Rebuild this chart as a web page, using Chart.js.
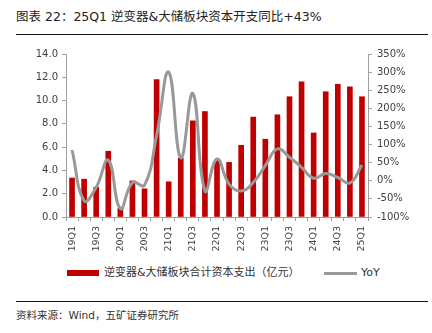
<!DOCTYPE html>
<html>
<head>
<meta charset="utf-8">
<script src="https://cdn.jsdelivr.net/npm/chart.js@4"></script>
<style>
  body { margin: 0; width: 432px; height: 333px; background: #fff; position: relative; overflow: hidden;
         font-family: "DejaVu Sans", "Noto Sans CJK SC", sans-serif; color: #333; }
  #title { position: absolute; left: 16px; top: 6px; font-size: 12.5px; font-family: "DejaVu Sans", "Noto Sans CJK SC"; color: #222; white-space: nowrap; }
  .rule { position: absolute; left: 16px; width: 412px; height: 1.4px; background: #111; }
  #wrap { position: absolute; left: 0; top: 40px; width: 432px; height: 220px; }
  #legend { position: absolute; top: 265px; left: 0; width: 432px; height: 16px; font-size: 11px; color: #333; }
  #legend span { position: absolute; white-space: nowrap; line-height: 16px; }
  #source { position: absolute; left: 16px; top: 307px; font-size: 10.5px; color: #333; white-space: nowrap; }
</style>
</head>
<body>
<div id="title">图表 22：25Q1 逆变器&amp;大储板块资本开支同比+43%</div>
<div class="rule" style="top:34px"></div>
<div id="wrap"><canvas id="chart" width="432" height="220"></canvas></div>
<div id="legend"></div>
<div class="rule" style="top:301px"></div>
<div id="source">资料来源：Wind，五矿证券研究所</div>
<script>
const quarters = ["19Q1","19Q2","19Q3","19Q4","20Q1","20Q2","20Q3","20Q4",
                  "21Q1","21Q2","21Q3","21Q4","22Q1","22Q2","22Q3","22Q4",
                  "23Q1","23Q2","23Q3","23Q4","24Q1","24Q2","24Q3","24Q4","25Q1"];
// 逆变器&大储板块合计资本支出（亿元）
const capex = [3.35, 3.25, 2.55, 5.65, 0.76, 3.1, 2.42, 11.8,
               3.02, 5.06, 8.26, 9.06, 4.89, 4.69, 6.16, 8.58,
               6.68, 8.78, 10.33, 11.6, 7.22, 10.76, 11.4, 11.17, 10.33];
// YoY (%)
const yoy = [85, -55, -18, 57, -77, -5, -12, 125,
             300, 63, 241, -28, 60, -9, -28, -5,
             42, 88, 65, 37, 7, 20, 9, -6, 43];

const barName = "逆变器&大储板块合计资本支出（亿元）";
const lineName = "YoY";
const axisGray = "#a0a0a0";
const tickFont = { family: "DejaVu Sans", size: 10 };

new Chart(document.getElementById("chart"), {
    data: {
        labels: quarters,
        datasets: [
            {
                type: "line",
                label: lineName,
                data: yoy,
                yAxisID: "y1",
                borderColor: "#999999",
                borderWidth: 3,
                pointRadius: 0,
                tension: 0.45,
                fill: false,
                order: 0
            },
            {
                type: "bar",
                label: barName,
                data: capex,
                yAxisID: "y",
                backgroundColor: "#c00000",
                barThickness: 5,
                order: 1
            }
        ]
    },
    options: {
        responsive: false,
        animation: false,
        maintainAspectRatio: false,
        layout: { padding: { top: 14, left: 0, right: 0, bottom: 0 } },
        plugins: { legend: { display: false }, tooltip: { enabled: false } },
        scales: {
            x: {
                offset: true,
                grid: { offset: true, drawOnChartArea: false, tickLength: 4, color: axisGray },
                border: { color: axisGray, width: 1 },
                ticks: {
                    autoSkip: false, minRotation: 90, maxRotation: 90, padding: 5,
                    color: "#404040", font: { family: "DejaVu Sans", size: 9.5 },
                    callback: (v, i) => i % 2 === 0 ? quarters[i] : ""
                },
                afterFit: s => { s.height = 43; }
            },
            y: {
                position: "left",
                min: 0, max: 14,
                ticks: { stepSize: 2, padding: 4, color: "#404040", font: tickFont,
                         callback: v => v.toFixed(1) },
                grid: { drawOnChartArea: false, tickLength: 4, color: axisGray },
                border: { color: axisGray, width: 1 },
                afterFit: s => { s.width = 66; }
            },
            y1: {
                position: "right",
                min: -100, max: 350,
                ticks: { stepSize: 50, padding: 5, color: "#404040", font: tickFont,
                         callback: v => v + "%" },
                grid: { drawOnChartArea: false, tickLength: 4, color: axisGray },
                border: { color: axisGray, width: 1 },
                afterFit: s => { s.width = 64; }
            }
        }
    }
});

// legend
const lg = document.getElementById("legend");
lg.innerHTML =
    '<span style="left:67px;top:5px;width:32px;height:6px;background:#c00000"></span>' +
    '<span style="left:104px;top:0px">' + barName.replace("&", "&amp;") + '</span>' +
    '<span style="left:324px;top:7px;width:33px;height:3px;background:#999999"></span>' +
    '<span style="left:361px;top:0px">' + lineName + '</span>';
</script>
</body>
</html>
